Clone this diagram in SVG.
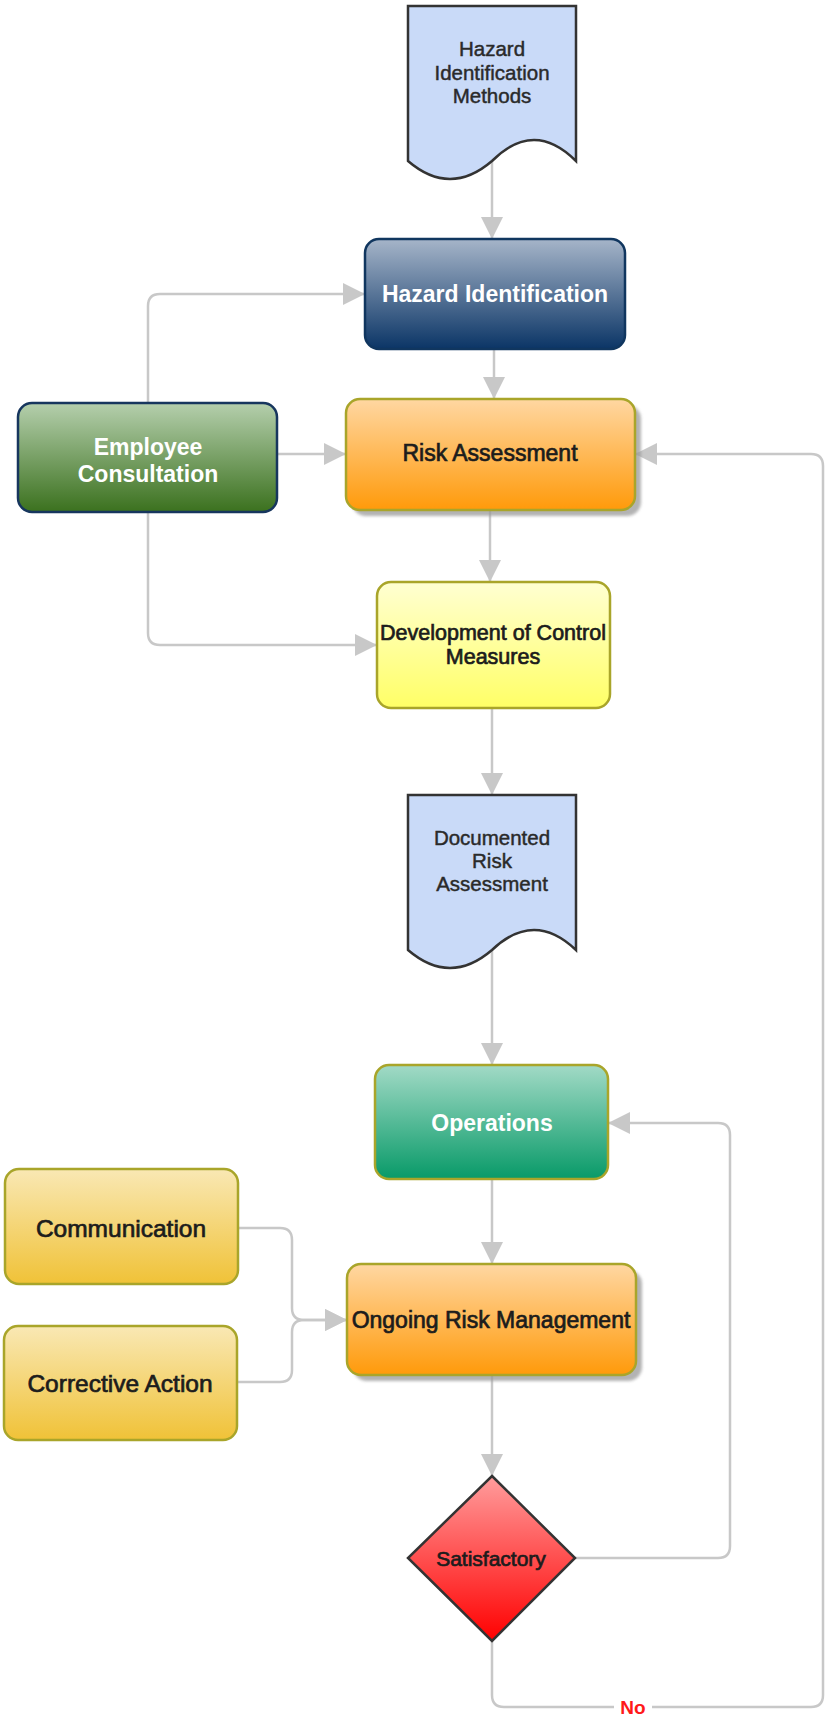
<svg xmlns="http://www.w3.org/2000/svg" width="826" height="1715" viewBox="0 0 826 1715">
  <defs>
    <linearGradient id="gNavy" x1="0" y1="0" x2="0" y2="1">
      <stop offset="0" stop-color="#a6b5c9"/>
      <stop offset="1" stop-color="#0b3566"/>
    </linearGradient>
    <linearGradient id="gGreen" x1="0" y1="0" x2="0" y2="1">
      <stop offset="0" stop-color="#b5cfad"/>
      <stop offset="1" stop-color="#3b711e"/>
    </linearGradient>
    <linearGradient id="gOrange" x1="0" y1="0" x2="0" y2="1">
      <stop offset="0" stop-color="#ffd7a2"/>
      <stop offset="1" stop-color="#ff9a0a"/>
    </linearGradient>
    <linearGradient id="gYellow" x1="0" y1="0" x2="0" y2="1">
      <stop offset="0" stop-color="#ffffd2"/>
      <stop offset="1" stop-color="#ffff66"/>
    </linearGradient>
    <linearGradient id="gTeal" x1="0" y1="0" x2="0" y2="1">
      <stop offset="0" stop-color="#a2dac6"/>
      <stop offset="1" stop-color="#089a68"/>
    </linearGradient>
    <linearGradient id="gGold" x1="0" y1="0" x2="0" y2="1">
      <stop offset="0" stop-color="#f9e8b4"/>
      <stop offset="1" stop-color="#f0c237"/>
    </linearGradient>
    <linearGradient id="gRed" x1="0" y1="0" x2="0" y2="1">
      <stop offset="0" stop-color="#ff9d9d"/>
      <stop offset="1" stop-color="#ff0000"/>
    </linearGradient>
    <filter id="soft" x="-10%" y="-10%" width="120%" height="130%">
      <feGaussianBlur stdDeviation="1.5"/>
    </filter>
    <marker id="arrow" markerUnits="userSpaceOnUse" markerWidth="22" markerHeight="22" refX="22" refY="11" orient="auto">
      <path d="M0,0 L22,11 L0,22 Z" fill="#c8c8c8"/>
    </marker>
  </defs>
  <style>
    text { font-family: "Liberation Sans", Arial, sans-serif; text-anchor: middle; dominant-baseline: central; }
    .dark { fill: #1c1c1c; stroke: #1c1c1c; stroke-width: 0.7; font-size: 23px; }
    .light { fill: #ffffff; font-size: 23px; font-weight: bold; }
    .doctext { fill: #2a2a2a; stroke: #2a2a2a; stroke-width: 0.45; font-size: 20.5px; }
    .doc { fill: #c9daf8; stroke: #333333; stroke-width: 2.5; }
    .olive { stroke: #a9a52a; stroke-width: 2.5; }
    .shadow { fill: #9a9a9a; opacity: 0.75; filter: url(#soft); }
    .edge { fill: none; stroke: #c8c8c8; stroke-width: 2.5; }
    .arrowed { marker-end: url(#arrow); }
    .label { fill: #ff1a1a; font-size: 19px; font-weight: bold; }
  </style>

  <!-- connectors -->
  <g id="connectors">
    <path class="edge arrowed" d="M492,161 V239"/>
    <path class="edge arrowed" d="M494,349 V399"/>
    <path class="edge arrowed" d="M490,510 V582"/>
    <path class="edge arrowed" d="M492,708 V795"/>
    <path class="edge arrowed" d="M492,950 V1065"/>
    <path class="edge arrowed" d="M492,1179 V1264"/>
    <path class="edge arrowed" d="M492,1375 V1476"/>
    <path class="edge arrowed" d="M148,403 V306 Q148,294 160,294 H365"/>
    <path class="edge arrowed" d="M277,454 H346"/>
    <path class="edge arrowed" d="M148,512 V633 Q148,645 160,645 H377"/>
    <path class="edge arrowed" d="M238,1228 H280 Q292,1228 292,1240 V1308 Q292,1320 304,1320 H347"/>
    <path class="edge arrowed" d="M237,1382 H280 Q292,1382 292,1370 V1332 Q292,1320 304,1320 H347"/>
    <path class="edge arrowed" d="M575,1558 H718 Q730,1558 730,1546 V1135 Q730,1123 718,1123 H608"/>
    <path class="edge arrowed" d="M492,1641 V1695 Q492,1707 504,1707 H811 Q823,1707 823,1695 V466 Q823,454 811,454 H635"/>
    <rect x="614" y="1697" width="38" height="20" fill="#ffffff"/>
    <text class="label" x="633" y="1707">No</text>
  </g>

  <!-- document: hazard identification methods -->
  <g id="hazard-methods">
    <path class="doc" d="M408,6 H576 V161 Q534,119 492,161 Q450,197 408,161 Z"/>
    <text class="doctext" x="492" y="48">Hazard</text>
    <text class="doctext" x="492" y="72">Identification</text>
    <text class="doctext" x="492" y="95">Methods</text>
  </g>

  <g id="hazard-identification">
    <rect x="365" y="239" width="260" height="110" rx="14" fill="url(#gNavy)" stroke="#10365f" stroke-width="2.5"/>
    <text class="light" x="495" y="294">Hazard Identification</text>
  </g>

  <g id="employee-consultation">
    <rect x="18" y="403" width="259" height="109" rx="14" fill="url(#gGreen)" stroke="#17365e" stroke-width="2.5"/>
    <text class="light" x="148" y="447">Employee</text>
    <text class="light" x="148" y="474">Consultation</text>
  </g>

  <g id="risk-assessment">
    <rect class="shadow" x="352" y="405" width="289" height="111" rx="14"/>
    <rect class="olive" x="346" y="399" width="289" height="111" rx="14" fill="url(#gOrange)"/>
    <text class="dark" x="490" y="453">Risk Assessment</text>
  </g>

  <g id="control-measures">
    <rect class="olive" x="377" y="582" width="233" height="126" rx="14" fill="url(#gYellow)"/>
    <text class="dark" x="493" y="633" style="font-size:21.5px">Development of Control</text>
    <text class="dark" x="493" y="657" style="font-size:21.5px">Measures</text>
  </g>

  <g id="documented-assessment">
    <path class="doc" d="M408,795 H576 V950 Q534,910 492,950 Q450,986 408,950 Z"/>
    <text class="doctext" x="492" y="837">Documented</text>
    <text class="doctext" x="492" y="860">Risk</text>
    <text class="doctext" x="492" y="883">Assessment</text>
  </g>

  <g id="operations">
    <rect class="olive" x="375" y="1065" width="233" height="114" rx="14" fill="url(#gTeal)"/>
    <text class="light" x="492" y="1123">Operations</text>
  </g>

  <g id="communication">
    <rect class="olive" x="5" y="1169" width="233" height="115" rx="14" fill="url(#gGold)"/>
    <text class="dark" x="121" y="1228" style="font-size:24.5px">Communication</text>
  </g>

  <g id="corrective-action">
    <rect class="olive" x="4" y="1326" width="233" height="114" rx="14" fill="url(#gGold)"/>
    <text class="dark" x="120" y="1383" style="font-size:24.5px">Corrective Action</text>
  </g>

  <g id="ongoing-risk-management">
    <rect class="shadow" x="353" y="1270" width="289" height="111" rx="14"/>
    <rect class="olive" x="347" y="1264" width="289" height="111" rx="14" fill="url(#gOrange)"/>
    <text class="dark" x="491" y="1320">Ongoing Risk Management</text>
  </g>

  <g id="satisfactory">
    <path d="M492,1476 L575,1558 L492,1641 L408,1558 Z" fill="url(#gRed)" stroke="#333333" stroke-width="2.5"/>
    <text class="dark" x="491" y="1558" style="font-size:21px">Satisfactory</text>
  </g>
</svg>
